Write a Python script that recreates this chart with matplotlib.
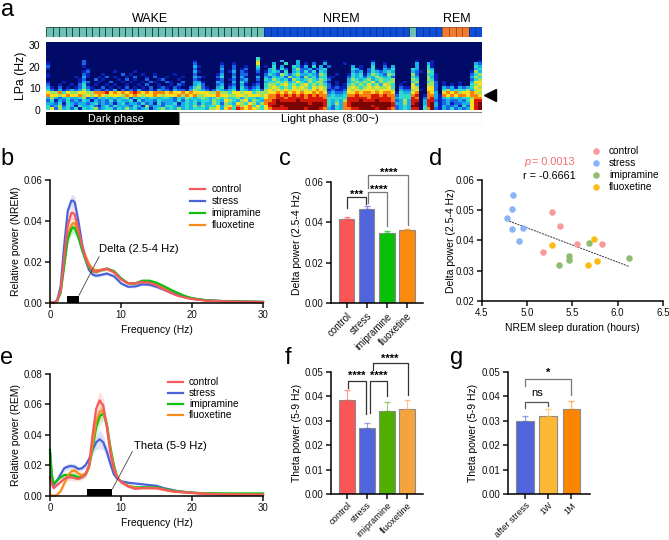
import matplotlib
matplotlib.use("Agg")
import matplotlib.pyplot as plt
import numpy as np
from matplotlib.colors import ListedColormap

plt.rcParams["font.family"] = ["Liberation Sans", "DejaVu Sans"]
plt.rcParams["font.size"] = 7
plt.rcParams["axes.linewidth"] = 1.1

W, H = 669, 540

groups = ["control", "stress", "imipramine", "fluoxetine"]
line_colors = ["#f4595c", "#4c63d8", "#10bd10", "#fb8c1c"]

# sleep states, one entry per epoch
states = ["W"] * 33 + ["N"] * 22 + ["W"] + ["N"] * 4 + ["R"] * 4 + ["N"] * 2

# spectrogram levels 0-9, read by eye, top row = 22.8-24 Hz, bottom row = 0-1.2 Hz
spec_wake = [
    "0000000000 0000000000 0000000000 0000000000 0000000000 00040",
    "0000000002 0000000000 0000000000 0000000100 0000000000 00050",
    "1000000002 0000000000 0000000000 0000000200 0000100100 00060",
    "2000000001 0000000000 0000000000 0000000310 0000200200 10040",
    "1000000000 1000000000 0000000000 0000000200 0000300201 20030",
    "0000000001 2000000100 0010000000 0000000310 0000201302 10020",
    "1000000002 1000100002 0100100100 0010000200 0001300202 20010",
    "1000000103 1001020100 1020010200 1000100321 0002400303 10030",
    "0000000012 0020100010 2010020012 0001000210 0001201202 30020",
    "1000100013 2001002001 0100102100 2100200331 0003200304 20010",
    "2001001024 1010010100 1001020010 0102100342 0002301203 10120",
    "3102010124 2100201010 2010102012 1021002452 1003402304 21230",
    "4213123235 3122121302 1213112132 2132213543 2124323414 32342",
    "6557465566 5577786767 6787676777 6766767666 6557554665 66455",
    "7665676675 6567656665 7676566765 6667576755 6667665566 56665",
    "3532343345 2324343434 5243434434 4324354345 4345454453 54434",
    "2413242324 3132324243 3414233243 3324243434 4354365435 63543",
    "3324143233 2342323134 2332423142 3341343424 3354254365 46535",
    "4235243143 3421342433 3243152332 4432343535 3446356475 67464",
    "4625342414 3452344243 5342341345 3435343444 3556367487 67654",
]
spec_nrem = [
    "0000000000 0000000000 0000000000 0000000000 00000",
    "0000300030 0000010000 0000000100 0000000010 00100",
    "0030040030 1020030000 1000000300 1000000030 03100",
    "1040300431 3040302000 0030100400 2030000030 04100",
    "0341420352 2312340000 0043102410 3240000430 04300",
    "1343140342 4241430000 0032302432 3430000321 05400",
    "2432542453 3432540010 0143413543 2540000520 04410",
    "3243425342 5342441100 0243424354 3420000430 05310",
    "4354342543 4543542000 0354345345 4450000540 05410",
    "3445453464 3545531010 0345454635 4550010450 04520",
    "4554564545 6454542010 1454546453 6540100630 05520",
    "4565454656 5465652121 1565456565 5640211650 06620",
    "5656565665 6567651211 2656566656 6650322561 06620",
    "5667676767 6676762322 3667677676 7761433670 07630",
    "6778787878 7878773433 4778777887 8772444780 17731",
    "6778878888 7888874444 4888887888 8873444870 27831",
    "7789888898 8888884343 5888988898 8872353880 38821",
    "7889999999 9899984353 7899999999 9983353890 38931",
    "6899899999 9999984243 7899999899 9982343990 48931",
    "6788889999 8999873243 7788999989 9872343880 47921",
]
spec_rem = [
    "0000000000",
    "0000000001",
    "0000000032",
    "0000000043",
    "0000000034",
    "0000000153",
    "0000000245",
    "0000000354",
    "0000000245",
    "1000100366",
    "1010100456",
    "3231323465",
    "4534445356",
    "6767566765",
    "7676776776",
    "3434344577",
    "2322324688",
    "2312233689",
    "3223142689",
    "3242323689",
]
spec_colors = ["#020a68", "#0a20b4", "#1866e6", "#18b0e8", "#30dcc8",
               "#a0e060", "#f8e020", "#f88010", "#d81808", "#7a0404"]

# panel b
freq_b = [0, 0.5, 1, 1.5, 2, 2.5, 3, 3.25, 3.5, 4, 4.5, 5, 5.5, 6, 6.5, 7, 8, 9, 10, 11, 12, 13, 14, 15, 16, 17, 18, 19, 20, 22, 25, 30]
nrem_control = [0, 0, .001, .006, .022, .038, .044, .044, .043, .036, .028, .022, .018, .0155, .015, .0158, .0167, .015, .0115, .0095, .0095, .0102, .0098, .0085, .0066, .0048, .0034, .0025, .0018, .001, .0006, .0003]
nrem_stress = [0, 0, .001, .008, .028, .045, .050, .050, .049, .040, .029, .021, .016, .0138, .0132, .0135, .0143, .013, .0095, .0078, .008, .0090, .0088, .0078, .0064, .005, .0038, .0028, .002, .0012, .0007, .0004]
nrem_imipramine = [0, 0, .0008, .005, .018, .031, .036, .037, .0365, .032, .026, .021, .017, .0155, .015, .0158, .0167, .0155, .012, .0095, .0095, .0108, .0108, .0098, .0082, .0064, .0048, .0033, .0022, .0012, .0007, .0004]
nrem_fluoxetine = [0, 0, .0008, .005, .020, .033, .038, .039, .039, .034, .028, .023, .019, .0165, .016, .016, .0165, .015, .0115, .0095, .0095, .0102, .0102, .0090, .0072, .0052, .0038, .0027, .002, .001, .0006, .0003]
nrem_sem = [0, 0, .0001, .0005, .001, .002, .003, .003, .003, .002, .0015, .001, .001, .0008, .0008, .0008, .0008, .0008, .0007, .0006, .0006, .0006, .0006, .0006, .0005, .0004, .0003, .0002, .0002, .0001, .0001, .0001]

# panel e
freq_e = [0, .25, .5, 1, 1.5, 2, 2.5, 3, 3.5, 4, 4.5, 5, 5.5, 6, 6.5, 7, 7.5, 8, 8.5, 9, 9.5, 10, 11, 12, 13, 14, 15, 16, 17, 18, 20, 22, 25, 30]
rem_control = [.012, .008, .005, .007, .009, .011, .012, .012, .0115, .011, .012, .014, .020, .040, .057, .0625, .059, .045, .028, .017, .012, .009, .006, .0045, .005, .005, .005, .004, .003, .0025, .0018, .0012, .0008, .0006]
rem_stress = [.028, .012, .007, .010, .014, .018, .019, .0195, .019, .0175, .018, .020, .024, .030, .035, .037, .035, .029, .021, .014, .011, .0095, .0085, .008, .0075, .007, .0065, .005, .004, .003, .002, .0013, .001, .0008]
rem_imipramine = [.030, .014, .008, .010, .012, .0135, .0135, .0135, .013, .012, .0125, .014, .019, .031, .045, .052, .054, .047, .032, .02, .012, .009, .0065, .0055, .0055, .0055, .0055, .0045, .0035, .0028, .002, .0016, .0015, .0015]
rem_fluoxetine = [0, 0, 0, .0005, .003, .008, .013, .016, .0165, .0145, .0135, .0145, .019, .034, .049, .055, .056, .046, .030, .018, .012, .009, .0065, .005, .005, .005, .0048, .004, .003, .0025, .0018, .0012, .0008, .0006]
rem_sem = [.004, .002, .001, .001, .001, .002, .002, .002, .002, .0015, .0015, .002, .002, .003, .005, .006, .005, .004, .003, .002, .001, .001, .0007, .0006, .0006, .0006, .0006, .0005, .0004, .0003, .0002, .0002, .0002, .0002]

# panel c
delta_mean = [.0415, .0467, .0347, .036]
delta_err = [.0013, .0015, .0008, .0009]
c_colors = ["#fb5555", "#5065dc", "#08c008", "#fb8a10"]

# panel d
sleep_control = [5.27, 5.36, 5.55, 5.825, 5.175]
delta_control = [.0494, .0449, .0387, .0388, .0361]
sleep_stress = [4.84, 4.83, 4.775, 4.83, 4.96, 4.91]
delta_stress = [.055, .0503, .0473, .0439, .0442, .0398]
sleep_imipramine = [5.35, 5.46, 5.46, 5.68, 6.125]
delta_imipramine = [.0318, .0347, .0335, .039, .0341]
sleep_fluoxetine = [5.27, 5.67, 5.775, 5.74]
delta_fluoxetine = [.0383, .0319, .033, .0404]
d_colors = ["#f79a9a", "#8ab4f8", "#8fbc6f", "#fbbc14"]
trend_x = [4.775, 6.13]
trend_y = [.0467, .0313]

# panel f
theta_mean = [.0385, .027, .0342, .0348]
theta_err = [.0043, .002, .0035, .0036]
f_colors = ["#fb5555", "#5065dc", "#50b000", "#f5a33d"]

# panel g
g_labels = ["after stress", "1W", "1M"]
g_mean = [.03, .0322, .0348]
g_err = [.0022, .0028, .0034]
g_colors = ["#5065dc", "#fdb935", "#fb8500"]

fig = plt.figure(figsize=(W / 100, H / 100), dpi=100)


def px_axes(x0, x1, ytop, ybot):
    ax = fig.add_axes([x0 / W, 1 - ybot / H, (x1 - x0) / W, (ybot - ytop) / H])
    ax.patch.set_alpha(0)
    return ax


def clean(ax):
    ax.spines["top"].set_visible(False)
    ax.spines["right"].set_visible(False)
    ax.tick_params(width=1.1, length=3.5, labelsize=7, pad=2, colors="#111111")


def ftxt(x, y, s, **kw):
    fig.text(x / W, 1 - y / H, s, **kw)


def ylabel_at(ax, text, xpx, x0, width):
    ax.set_ylabel(text, fontsize=7.5, va="center")
    ax.yaxis.set_label_coords((xpx - x0) / width, 0.5)


def bracket(ax, x0, x1, top, bot0, bot1, color="#333333"):
    ax.plot([x0, x0, x1, x1], [bot0, top, top, bot1], color=color, lw=0.9, clip_on=False, zorder=5)


for letter, x, y in [("a", 1, 10), ("b", 0, 159), ("c", 279, 159), ("d", 429, 159), ("e", 0, 358), ("f", 285, 358), ("g", 450, 358)]:
    ftxt(x, y, letter, fontsize=17, ha="left", va="center")

# a: hypnogram
ax = px_axes(46, 482, 27, 37)
state_fill = {"W": "#6cc0b4", "N": "#0f4fd8", "R": "#f07a30"}
state_edge = {"W": "#163f3b", "N": "#0a3590", "R": "#a04a18"}
ax.bar(np.arange(len(states)), 1, width=1, align="edge",
       color=[state_fill[s] for s in states], edgecolor=[state_edge[s] for s in states], linewidth=0.6)
ax.set_xlim(0, len(states))
ax.set_ylim(0, 1)
ax.axis("off")
ftxt(150, 19.5, "WAKE", fontsize=9, ha="center", va="center")
ftxt(341, 19.5, "NREM", fontsize=9, ha="center", va="center")
ftxt(457, 19.5, "REM", fontsize=9, ha="center", va="center")

# a: spectrogram
spec_rows = [(a + b + c).replace(" ", "") for a, b, c in zip(spec_wake, spec_nrem, spec_rem)]
spec = np.array([[int(ch) for ch in row] for row in spec_rows])
ax = px_axes(46, 482, 41.7, 110)
ax.set_facecolor(spec_colors[0])
ax.patch.set_alpha(1)
ax.imshow(spec, aspect="auto", extent=(0, spec.shape[1], 0, 24), cmap=ListedColormap(spec_colors),
          vmin=-0.5, vmax=9.5, interpolation="nearest")
ax.set_xlim(0, spec.shape[1])
ax.set_ylim(0, 31.5)
ax.set_xticks([])
ax.set_yticks([0, 10, 20, 30])
ax.tick_params(length=0, labelsize=7.5, pad=4)
for s in ax.spines.values():
    s.set_visible(False)
ax.set_ylabel("LPa (Hz)", fontsize=8.8, va="center")
ax.yaxis.set_label_coords((21 - 46) / 436, 0.5)
ax.plot([spec.shape[1] * 444 / 436], [6.8], marker="<", color="black", ms=8, clip_on=False)

# a: dark/light bar
ax = px_axes(46, 482, 111.7, 125)
ax.barh([0], [133], left=[0], height=1, color="black", align="edge")
ax.barh([0], [303], left=[133], height=1, color="white", edgecolor="#888888", linewidth=0.8, align="edge")
ax.set_xlim(0, 436)
ax.set_ylim(0, 1)
ax.axis("off")
ax.text(69.7, 0.46, "Dark phase", color="white", fontsize=7.8, ha="center", va="center")
ax.text(284, 0.46, "Light phase (8:00~)", color="black", fontsize=8.1, ha="center", va="center")

# b
ax = px_axes(50, 263, 180.3, 302.7)
nrem_curves = [nrem_fluoxetine, nrem_stress, nrem_imipramine, nrem_control]
order = [3, 1, 2, 0]
for curve, i in zip(nrem_curves, order):
    y = np.array(curve)
    ax.fill_between(freq_b, y - np.array(nrem_sem), y + np.array(nrem_sem), color=line_colors[i], alpha=0.2, lw=0)
    ax.plot(freq_b, curve, color=line_colors[i], lw=1.6, clip_on=False)
ax.bar([3.2], [.0035], width=1.7, color="black", zorder=5)
ax.plot([4.08, 6.9], [.0036, .0225], color="#444444", lw=0.6)
ax.text(6.9, .0262, "Delta (2.5-4 Hz)", fontsize=8.1, va="center")
ax.set_xlim(0, 30)
ax.set_ylim(0, .06)
ax.set_xticks([0, 10, 20, 30])
ax.set_yticks([0, .02, .04, .06], ["0.00", "0.02", "0.04", "0.06"])
clean(ax)
ax.set_xlabel("Frequency (Hz)", fontsize=7.5, labelpad=3.5)
ylabel_at(ax, "Relative power (NREM)", 15.7, 50, 213)
for i, g in enumerate(groups):
    y = 189 + i * 11.9
    fig.add_artist(plt.Line2D([190 / W, 205 / W], [1 - y / H, 1 - y / H], color=line_colors[i], lw=1.6))
    ftxt(211.7, y, g, fontsize=7.3, va="center")

# c
ax = px_axes(330.7, 423, 181.7, 303.3)
xpos = np.arange(4)
ax.bar(xpos, delta_mean, width=0.76, color=c_colors, edgecolor="#8a8a8a", linewidth=0.8)
for i in xpos:
    ax.errorbar(i, delta_mean[i], yerr=[[0], [delta_err[i]]], color=c_colors[i], capsize=2, lw=0.8, alpha=0.7)
ax.set_xlim(-0.8, 3.8)
ax.set_ylim(0, .06)
ax.set_xticks(xpos, groups, rotation=45, ha="right", rotation_mode="anchor")
ax.set_yticks([0, .02, .04, .06], ["0.00", "0.02", "0.04", "0.06"])
clean(ax)
ylabel_at(ax, "Delta power (2.5-4 Hz)", 296.5, 330.7, 92.3)
bracket(ax, 0, 0.98, .0523, .0468, .049)
bracket(ax, 1.08, 2.0, .055, .0493, .038, "#777777")
bracket(ax, 1.08, 3.03, .0633, .0567, .0386, "#777777")
ax.text(0.5, .0536, "***", fontsize=8, fontweight="bold", ha="center", va="center")
ax.text(1.58, .056, "****", fontsize=8, fontweight="bold", ha="center", va="center")
ax.text(2.08, .0642, "****", fontsize=8, fontweight="bold", ha="center", va="center")

# d
ax = px_axes(481.7, 663, 180, 300.7)
d_x = [sleep_control, sleep_stress, sleep_imipramine, sleep_fluoxetine]
d_y = [delta_control, delta_stress, delta_imipramine, delta_fluoxetine]
for i in range(4):
    ax.scatter(d_x[i], d_y[i], s=22, color=d_colors[i], linewidths=0, zorder=3)
ax.plot(trend_x, trend_y, color="#333333", lw=0.7, ls=(0, (2, 1)))
ax.set_xlim(4.5, 6.5)
ax.set_ylim(.02, .06)
ax.set_xticks([4.5, 5, 5.5, 6, 6.5], ["4.5", "5.0", "5.5", "6.0", "6.5"])
ax.set_yticks([.02, .03, .04, .05, .06], ["0.02", "0.03", "0.04", "0.05", "0.06"])
clean(ax)
ax.set_xlabel("NREM sleep duration (hours)", fontsize=7.5, labelpad=3)
ylabel_at(ax, "Delta power (2.5-4 Hz)", 451, 481.7, 181.3)
ftxt(524, 162, "p", color="#f26d6d", fontsize=7.8, style="italic", ha="left", va="center")
ftxt(532, 162, "= 0.0013", color="#f26d6d", fontsize=7.8, ha="left", va="center")
ftxt(549, 176, "r = -0.6661", fontsize=7.8, ha="center", va="center")
for i, g in enumerate(groups):
    y = 151 + i * 12
    fig.add_artist(plt.Line2D([596 / W], [1 - y / H], marker="o", ms=4.7, color=d_colors[i], lw=0, mew=0))
    ftxt(609, y, g, fontsize=7.3, va="center")

# e
ax = px_axes(50, 263, 373.7, 495.7)
rem_curves = [rem_stress, rem_imipramine, rem_fluoxetine, rem_control]
order = [1, 2, 3, 0]
for curve, i in zip(rem_curves, order):
    y = np.array(curve)
    ax.fill_between(freq_e, y - np.array(rem_sem), y + np.array(rem_sem), color=line_colors[i], alpha=0.18, lw=0)
    ax.plot(freq_e, curve, color=line_colors[i], lw=1.6, clip_on=False)
ax.bar([7], [.0045], width=3.6, color="black", zorder=5)
ax.plot([8.8, 11.6], [.0045, .029], color="#444444", lw=0.6)
ax.text(11.9, .0325, "Theta (5-9 Hz)", fontsize=8.1, va="center")
ax.set_xlim(0, 30)
ax.set_ylim(0, .08)
ax.set_xticks([0, 10, 20, 30])
ax.set_yticks([0, .02, .04, .06, .08], ["0.00", "0.02", "0.04", "0.06", "0.08"])
clean(ax)
ax.set_xlabel("Frequency (Hz)", fontsize=7.5, labelpad=3.5)
ylabel_at(ax, "Relative power (REM)", 15.7, 50, 213)
for i, g in enumerate(groups):
    y = 382 + i * 11.1
    fig.add_artist(plt.Line2D([168 / W, 183 / W], [1 - y / H, 1 - y / H], color=line_colors[i], lw=1.6))
    ftxt(189, y, g, fontsize=7.3, va="center")

# f
ax = px_axes(331, 423, 372, 494.3)
ax.bar(xpos, theta_mean, width=0.76, color=f_colors, edgecolor="#8a8a8a", linewidth=0.8)
for i in xpos:
    ax.errorbar(i, theta_mean[i], yerr=[[0], [theta_err[i]]], color=f_colors[i], capsize=2, lw=0.8, alpha=0.6)
ax.set_xlim(-0.8, 3.8)
ax.set_ylim(0, .05)
ax.set_xticks(xpos, groups, rotation=45, ha="right", rotation_mode="anchor")
ax.set_yticks([0, .01, .02, .03, .04, .05], ["0.00", "0.01", "0.02", "0.03", "0.04", "0.05"])
clean(ax)
ax.tick_params(axis="x", labelsize=6.7, pad=1)
ylabel_at(ax, "Theta power (5-9 Hz)", 296.5, 331, 92)
bracket(ax, 0.03, 0.95, .0463, .0433, .033)
bracket(ax, 1.15, 2.0, .0463, .0332, .04)
bracket(ax, 1.3, 3.03, .0535, .0508, .0406)
ax.text(0.5, .0483, "****", fontsize=8, fontweight="bold", ha="center", va="center")
ax.text(1.6, .0483, "****", fontsize=8, fontweight="bold", ha="center", va="center")
ax.text(2.15, .0555, "****", fontsize=8, fontweight="bold", ha="center", va="center")

# g
ax = px_axes(507.7, 590, 372, 494.3)
gpos = np.arange(3)
ax.bar(gpos, g_mean, width=0.77, color=g_colors, edgecolor="#8a8a8a", linewidth=0.8)
for i in gpos:
    ax.errorbar(i, g_mean[i], yerr=[[0], [g_err[i]]], color=g_colors[i], capsize=2, lw=0.8, alpha=0.6)
ax.set_xlim(-0.75, 2.8)
ax.set_ylim(0, .05)
ax.set_xticks(gpos, g_labels, rotation=45, ha="right", rotation_mode="anchor")
ax.set_yticks([0, .01, .02, .03, .04, .05], ["0.00", "0.01", "0.02", "0.03", "0.04", "0.05"])
clean(ax)
ax.tick_params(axis="x", labelsize=6.6, pad=1)
ylabel_at(ax, "Theta power (5-9 Hz)", 473, 507.7, 82.3)
bracket(ax, 0, 1, .0378, .0352, .0361, "#555555")
bracket(ax, 0, 2, .0471, .0444, .0406, "#777777")
ax.text(0.5, .0415, "ns", fontsize=8, ha="center", va="center")
ax.text(1, .0495, "*", fontsize=8, fontweight="bold", ha="center", va="center")

fig.savefig("out.png", dpi=100)
